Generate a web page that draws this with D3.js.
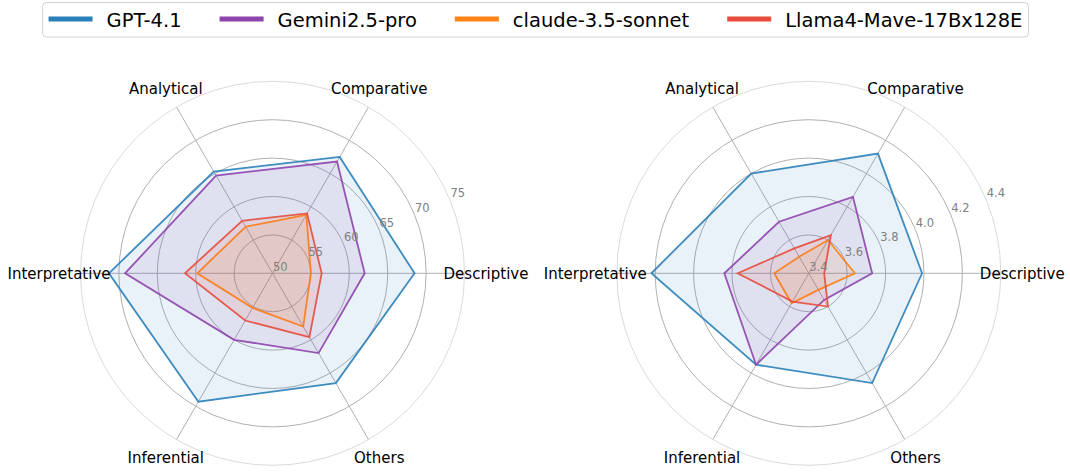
<!DOCTYPE html>
<html>
<head>
<meta charset="utf-8">
<script src="https://cdn.jsdelivr.net/npm/d3@7"></script>
<style>
  html, body { margin: 0; padding: 0; background: #fff; }
  svg { display: block; font-family: "DejaVu Sans", sans-serif; }
</style>
</head>
<body>
<svg id="chart" width="1070" height="472"></svg>
<script>
// ---------- data ----------
const categories = ["Descriptive", "Comparative", "Analytical", "Interpretative", "Inferential", "Others"];
const models = ["GPT-4.1", "Gemini2.5-pro", "claude-3.5-sonnet", "Llama4-Mave-17Bx128E"];
const colors = ["#2a80b9", "#8e44ad", "#ff8214", "#e74c3c"];

// left panel
const leftGPT    = [68.5, 67.5, 65.3, 71.3, 69.3, 66.5];
const leftGemini = [62.0, 66.8, 64.7, 69.2, 60.0, 62.0];
const leftClaude = [55.0, 58.8, 57.0, 59.8, 55.2, 58.0];
const leftLlama  = [56.4, 59.0, 57.9, 61.4, 57.1, 59.6];
const leftTicks  = [50, 55, 60, 65, 70, 75];

// right panel
const rightGPT    = [3.99, 4.12, 4.00, 4.22, 3.95, 4.06];
const rightGemini = [3.73, 3.86, 3.71, 3.84, 3.95, 3.56];
const rightClaude = [3.64, 3.60, 3.50, 3.58, 3.58, 3.50];
const rightLlama  = [3.48, 3.63, 3.55, 3.77, 3.57, 3.60];
const rightTicks  = [3.4, 3.6, 3.8, 4.0, 4.2, 4.4];

const panels = [
  { cx: 272.5, cy: 273.3, series: [leftGPT, leftGemini, leftClaude, leftLlama], ticks: leftTicks, fmt: d3.format("d") },
  { cx: 808.8, cy: 273.3, series: [rightGPT, rightGemini, rightClaude, rightLlama], ticks: rightTicks, fmt: d3.format(".1f") }
];

const svg = d3.select("#chart");
const R = 192;
const toRad = Math.PI / 180;
// matplotlib-style angle (ccw from east) -> d3 radial angle (cw from north)
const catAngle = i => i * 60 * toRad;            // math angle
const d3Angle = i => Math.PI / 2 - catAngle(i);

panels.forEach(p => {
  const r = d3.scaleLinear().domain([p.ticks[0], p.ticks[p.ticks.length - 1]]).range([0, R]);
  const g = svg.append("g").attr("transform", `translate(${p.cx},${p.cy})`);

  // grid circles
  p.ticks.slice(1, -1).forEach(t => {
    g.append("circle").attr("r", r(t)).attr("fill", "none")
      .attr("stroke", "#b0b0b0").attr("stroke-width", 1);
  });
  // spokes
  categories.forEach((c, i) => {
    g.append("line")
      .attr("x1", 0).attr("y1", 0)
      .attr("x2", R * Math.cos(catAngle(i))).attr("y2", -R * Math.sin(catAngle(i)))
      .attr("stroke", "#b0b0b0").attr("stroke-width", 1);
  });
  // outer spine
  g.append("circle").attr("r", R).attr("fill", "none")
    .attr("stroke", "#d0d0d0").attr("stroke-width", 0.8);

  // series
  const line = d3.lineRadial()
    .angle((d, i) => d3Angle(i))
    .radius(d => r(d))
    .curve(d3.curveLinearClosed);

  p.series.forEach((s, k) => {
    g.append("path").attr("d", line(s))
      .attr("fill", colors[k]).attr("fill-opacity", 0.1)
      .attr("stroke", colors[k]).attr("stroke-width", 1.8).attr("stroke-opacity", 0.9)
      .attr("stroke-linejoin", "miter");
  });

  // radial tick labels at 22.5 deg
  const la = 22.5 * toRad;
  p.ticks.forEach(t => {
    g.append("text")
      .attr("x", r(t) * Math.cos(la) + 0.5)
      .attr("y", -r(t) * Math.sin(la) - 2.5)
      .attr("font-size", 11.5).attr("fill", "#808080")
      .attr("text-anchor", "start")
      .text(p.fmt(t));
  });

  // category labels
  categories.forEach((c, i) => {
    const rr = R + 21.5;
    g.append("text")
      .attr("x", rr * Math.cos(catAngle(i)))
      .attr("y", -rr * Math.sin(catAngle(i)))
      .attr("dy", "0.35em")
      .attr("text-anchor", "middle")
      .attr("font-size", 15).attr("fill", "#000")
      .text(c);
  });
});

// ---------- legend ----------
const fs = 19.5, handleLen = 44, textPad = 14, colGap = 38, bpad = 6;
const lg = svg.append("g");
const items = models.map((m, k) => {
  const t = lg.append("text").attr("font-size", fs).attr("fill", "#000").text(m);
  return { t, w: t.node().getComputedTextLength(), k };
});
const total = items.reduce((a, it) => a + handleLen + textPad + it.w, 0) + colGap * (items.length - 1);
let x0 = 535.5 - total / 2;
lg.insert("rect", ":first-child")
  .attr("x", x0 - bpad).attr("y", 2.5)
  .attr("width", total + 2 * bpad).attr("height", 34.5)
  .attr("rx", 4).attr("ry", 4)
  .attr("fill", "#fff").attr("stroke", "#d0d0d0").attr("stroke-width", 1);
let x = x0;
items.forEach(it => {
  lg.append("line").attr("x1", x).attr("x2", x + handleLen)
    .attr("y1", 19).attr("y2", 19)
    .attr("stroke", colors[it.k]).attr("stroke-width", 5);
  it.t.attr("x", x + handleLen + textPad).attr("y", 26.5);
  x += handleLen + textPad + it.w + colGap;
});
</script>
</body>
</html>
